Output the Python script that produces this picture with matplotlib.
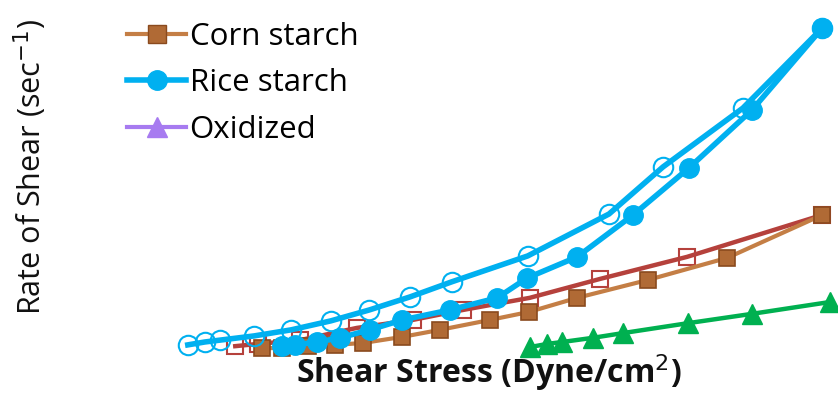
import matplotlib
matplotlib.use("Agg")
import matplotlib.pyplot as plt
from matplotlib.lines import Line2D

plt.rcParams['font.family'] = ['Open Sans', 'DejaVu Sans']

# Shear stress (x) and rate of shear (y), arbitrary units
corn_x = [12.6, 15.7, 19.7, 23.8, 28.2, 34.2, 40.0, 47.7, 53.7, 61.1, 72.0, 84.2, 98.8]
corn_y = [0.6, 0.6, 1.2, 1.6, 2.2, 4.1, 6.3, 9.4, 11.9, 16.3, 21.9, 28.8, 42.2]

corn2_x = [8.5, 12.0, 18.5, 27.2, 35.8, 43.5, 53.8, 64.6, 78.0, 98.8]
corn2_y = [1.2, 1.9, 3.1, 6.9, 9.4, 12.5, 16.3, 22.2, 29.1, 42.2]

rice_x = [15.7, 17.7, 21.1, 24.6, 29.2, 34.2, 41.5, 48.8, 53.4, 61.1, 69.7, 78.3, 88.0, 98.8]
rice_y = [1.2, 1.6, 2.5, 3.8, 6.3, 9.4, 12.5, 16.3, 22.5, 29.1, 42.2, 56.9, 75.0, 100.6]

rice2_x = [1.2, 3.8, 6.2, 11.4, 17.1, 23.2, 29.1, 35.4, 41.8, 53.5, 66.0, 74.3, 86.6, 98.8]
rice2_y = [1.6, 2.5, 3.1, 4.4, 6.3, 9.1, 12.5, 16.6, 21.3, 29.4, 42.5, 57.2, 75.6, 100.6]

ox_x = [53.8, 56.5, 58.8, 63.5, 68.2, 78.2, 88.0, 100.0]
ox_y = [0.9, 1.9, 2.5, 3.8, 5.3, 8.4, 11.3, 15.0]

labels = ["Corn starch", "Rice starch", "Oxidized"]

BROWN_LINE = "#C47E45"
BROWN_FACE = "#B06A35"
BROWN_EDGE = "#8A4A1E"
RED = "#B5413C"
BLUE = "#00B0F0"
GREEN = "#00B050"
PURPLE = "#A77BF0"

fig = plt.figure(figsize=(8.38, 3.96), dpi=100)
ax = fig.add_axes([0, 0, 1, 1])
ax.set_xlim(-180 / 6.5, 658 / 6.5)
ax.set_ylim(-46 / 3.2, 350 / 3.2)
ax.axis("off")

ax.plot(corn2_x, corn2_y, color=RED, lw=3.2, marker="s", ms=12,
        mfc="none", mec=RED, mew=1.5, zorder=2, clip_on=False)
ax.plot(corn_x, corn_y, color=BROWN_LINE, lw=3.0, marker="s", ms=12,
        mfc=BROWN_FACE, mec=BROWN_EDGE, mew=1.2, zorder=3, clip_on=False)
ax.plot(ox_x, ox_y, color=GREEN, lw=3.2, marker="^", ms=14,
        mfc=GREEN, mec=GREEN, zorder=3, clip_on=False)
ax.plot(rice2_x, rice2_y, color=BLUE, lw=4.0, marker="o", ms=14,
        mfc="none", mec=BLUE, mew=1.5, zorder=4, clip_on=False)
ax.plot(rice_x, rice_y, color=BLUE, lw=4.0, marker="o", ms=14,
        mfc=BLUE, mec=BLUE, zorder=5, clip_on=False)

handles = [
    Line2D([], [], color=BROWN_LINE, lw=3, marker="s", ms=13, mfc=BROWN_FACE, mec=BROWN_EDGE),
    Line2D([], [], color=BLUE, lw=4, marker="o", ms=14, mfc=BLUE, mec=BLUE),
    Line2D([], [], color=PURPLE, lw=3, marker="^", ms=14, mfc=PURPLE, mec=PURPLE),
]
leg = ax.legend(handles, labels, loc="upper left", bbox_to_anchor=(0.118, 1.015),
                frameon=False, fontsize=22.5, handlelength=1.9, handletextpad=0.1,
                labelspacing=0.52)

fig.text(30 / 838, 1 - 167 / 396, "Rate of Shear (sec$^{-1}$)", rotation=90,
         ha="center", va="center", fontsize=22, color="#111111")
fig.text(489 / 838, 1 - 373 / 396, "Shear Stress (Dyne/cm$^{2}$)",
         ha="center", va="center", fontsize=23, fontweight="bold", color="#111111")

fig.savefig("out.png", dpi=100)
